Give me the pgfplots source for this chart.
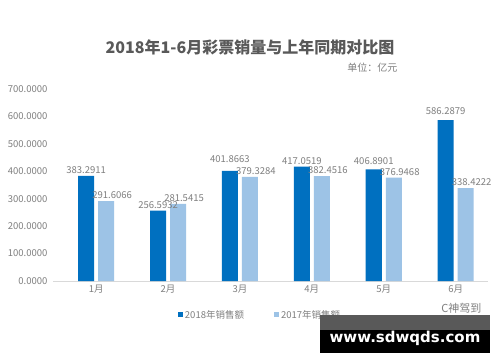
\documentclass[border=0pt]{standalone}
\usepackage{pgfplots}
\pgfplotsset{compat=1.18}
\usepackage{fontspec}
\setmainfont{Noto Sans CJK SC}
\newfontfamily\wmfont{DejaVu Sans}
\definecolor{darkb}{HTML}{0070C0}
\definecolor{lightb}{HTML}{9DC3E6}
\definecolor{txt}{HTML}{7F7F7F}
\definecolor{ttl}{HTML}{595959}
\begin{document}
\begin{tikzpicture}[x=1pt,y=1pt]
\path[use as bounding box, fill=white] (0,0) rectangle (500,362);
\begin{axis}[
  at={(53pt,81pt)}, anchor=south west,
  scale only axis, width=435pt, height=192pt,
  xmin=-0.6, xmax=5.45, ymin=0, ymax=700,
  ytick={0,100,...,700},
  xtick={0,...,5},
  xticklabels={1月,2月,3月,4月,5月,6月},
  axis x line*=bottom, axis y line*=left,
  x axis line style={draw=black!15, line width=0.8pt, -},
  y axis line style={draw=none},
  major tick length=0pt,
  tick label style={font=\fontsize{9.5}{12}\selectfont, text=txt},
  /pgf/number format/assume math mode=true,
  yticklabel={\pgfmathprintnumber[fixed,fixed zerofill,precision=4]{\tick}},
  yticklabel style={xshift=-2pt},
  ybar, bar width=16pt,
  nodes near coords, point meta=explicit symbolic,
  every node near coord/.append style={font=\fontsize{9.5}{12}\selectfont, text=txt, inner sep=2pt},
  legend style={at={(0.476,-0.177)}, anchor=center, draw=none, fill=none,
    font=\fontsize{9.5}{12}\selectfont, text=txt, legend columns=2,
    /tikz/every even column/.append style={column sep=28pt}},
  legend cell align=left,
]
\addplot[fill=darkb, draw=none, bar shift=-10pt,
  legend image code/.code={\fill[darkb] (0pt,-2.5pt) rectangle (5pt,2.5pt);}]
  coordinates {(0,383.2911)[383.2911] (1,256.5932)[256.5932] (2,401.8663)[{\raisebox{6pt}{401.8663}}]
               (3,417.0519)[417.0519] (4,406.8901)[{\raisebox{3pt}{406.8901}}] (5,586.2879)[{\raisebox{3pt}{586.2879}}]};
\addplot[fill=lightb, draw=none, bar shift=10pt,
  every node near coord/.append style={xshift=6pt},
  legend image code/.code={\fill[lightb] (0pt,-2.5pt) rectangle (5pt,2.5pt);}]
  coordinates {(0,291.6066)[291.6066] (1,281.5415)[281.5415] (2,379.3284)[379.3284]
               (3,382.4516)[382.4516] (4,376.9468)[376.9468] (5,338.4222)[338.4222]};
\legend{2018年销售额, 2017年销售额}
\end{axis}
\node[font=\bfseries\fontsize{16}{18}\selectfont, text=ttl] at (250,315) {2018年1-6月彩票销量与上年同期对比图};
\node[font=\fontsize{10}{12}\selectfont, text=txt, anchor=east] at (401,294) {单位：亿元};
\node[font=\fontsize{11}{12}\selectfont, text=txt, anchor=east] at (485,54) {C神驾到};
\fill[black!65] (320,32) rectangle (490,47);
\fill[black] (320,9) rectangle (490,32);
\node[font=\wmfont\bfseries\fontsize{15}{16}\selectfont, text=white] at (405,24) {www.sdwqds.com};
\end{tikzpicture}
\end{document}
